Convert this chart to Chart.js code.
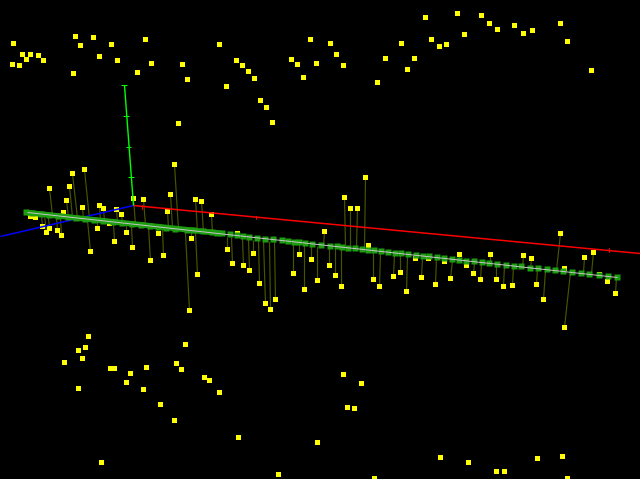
<!DOCTYPE html>
<html>
<head>
<meta charset="utf-8">
<script src="https://cdn.jsdelivr.net/npm/chart.js@4/dist/chart.umd.min.js"></script>
<style>html,body{margin:0;padding:0;background:#000;overflow:hidden}canvas{display:block;background:#000}</style>
</head>
<body>
<canvas id="c" width="640" height="479"></canvas>
<script>
const looseX = [13,22,30,26,38,43,12,19,73,75,80,93,99,111,117,137,145,151,182,187,219,226,236,242,248,254,260,266,272,178,291,297,303,310,316,330,336,343,377,385,401,407,414,425,431,439,446,457,464,481,489,497,514,523,532,560,567,591,
88,85,78,82,64,78,110,114,130,126,146,143,176,181,185,204,209,219,160,174,238,101,278,317,343,361,347,354,374,440,468,496,504,537,562,567,
35,30,109,237,444,466,564,599,607,415,428];
const looseY = [43,54,54,59,55,60,64,65,73,36,45,37,56,44,60,72,39,63,64,79,44,86,60,65,71,78,100,107,122,123,59,64,77,39,63,43,54,65,82,58,43,69,58,17,39,46,44,13,34,15,23,29,25,33,30,23,41,70,
336,347,350,358,362,388,368,368,373,382,367,389,363,369,344,377,380,392,404,420,437,462,474,442,374,383,407,408,478,457,462,471,471,458,456,478,
217,216,223,233,261,265,268,274,281,258,258];

const stemX  = [49,72,84,69,66,82,99,103,116,121,63,133,143,174,170,167,195,201,211,365,344,350,357,324,368,459,490,523,531,560,584,593,
42,46,49,57,61,90,97,114,126,132,150,158,163,191,197,189,227,232,243,249,253,259,265,270,275,293,299,304,311,317,329,335,341,373,379,393,400,406,421,435,450,473,480,496,503,512,536,543,564,615];
const stemY  = [188,173,169,186,200,207,205,208,209,214,212,198,199,164,194,211,199,201,214,177,197,208,208,231,245,254,254,255,258,233,257,252,
226,232,228,230,235,251,228,241,232,247,260,233,255,238,274,310,249,263,265,270,253,283,303,309,299,273,254,289,259,280,265,275,286,279,286,276,272,291,277,284,278,273,279,279,286,285,284,299,327,293];
const baseX  = [52,77,89,72,68,83,100,104,117,122,64,135,145,178,172,168,197,203,212,364,345,350,356,323,368,459,490,522,530,556,583,591,
41,44,48,56,60,87,97,113,126,131,148,157,162,191,195,185,227,231,242,248,253,258,263,269,274,293,299,304,311,317,329,335,341,373,380,394,400,407,422,436,452,474,481,496,504,513,537,545,570,616];
const baseY  = [215,218,219,217,217,218,220,221,222,223,216,224,225,229,228,228,231,232,233,249,245,246,247,245,250,260,263,267,268,270,272,273,
214,215,217,217,218,220,221,223,224,225,226,227,228,231,232,233,237,237,238,238,240,240,240,241,241,244,244,245,246,246,247,248,248,252,252,254,255,255,257,258,260,262,263,265,265,266,269,270,272,277];

const bandBoxX = [26,32,41,49,58,68,76,85,94,103,113,122,132,141,150,158,166,175,187,193,203,212,217,222,230,237,243,249,257,265,273,282,288,294,299,305,312,321,330,337,342,348,355,362,368,374,381,388,395,401,408,416,423,429,437,444,452,459,466,474,482,489,497,506,514,521,530,538,547,555,563,572,581,589,599,608,617];
const bandBoxY = [212,213,214,215,216,217,218,219,220,221,222,223,224,225,226,227,228,229,230,230,231,232,233,233,234,235,236,237,238,239,239,240,241,242,242,243,244,245,246,246,247,248,248,249,250,250,251,252,253,253,254,255,256,256,257,258,259,260,261,261,262,263,264,265,266,266,268,268,269,270,271,272,273,274,275,276,277];

const axisLineX = [27,617];
const axisLineY = [212,277];
const bandLeftX = [26,222];
const bandLeftY = [212,233];

const redX = [133,640];
const redY = [205,253];
const blueX = [133,0];
const blueY = [205,236];
const greenX = [133,124];
const greenY = [205,85];

const greenTickX1 = [121,123,126,128];
const greenTickX2 = [127,129,131,134];
const greenTickY  = [85,116,147,177];
const redTickX = [142,256,609];
const redTickY1 = [205,216,248];
const redTickY2 = [209,219,252];

const pts = (xs, ys) => xs.map((x, i) => ({x, y: ys[i]}));
const segs = (x1, y1, x2, y2) => x1.flatMap((x, i) => [{x, y: y1[i]}, {x: x2[i], y: y2[i]}, {x: null, y: null}]);
const line = (data, color, width, order) => ({type: 'scatter', data, showLine: true, borderColor: color, borderWidth: width, pointRadius: 0, order, spanGaps: false, borderCapStyle: 'butt'});
const marks = (data, color, radius, order) => ({type: 'scatter', data, showLine: false, backgroundColor: color, borderWidth: 0, pointStyle: 'rect', pointRadius: radius, order});

new Chart(document.getElementById('c'), {
  type: 'scatter',
  data: {datasets: [
    line(pts(axisLineX, axisLineY), '#c4c4c4', 1, 1),
    marks(pts(bandBoxX, bandBoxY), '#1c9e10', 4.25, 2),
    line(pts(bandLeftX, bandLeftY), '#1c9e10', 5.5, 3),
    line(pts(redX, redY), '#ff0000', 1.4, 5),
    line(pts(blueX, blueY), '#0000ff', 1.4, 5),
    line(pts(greenX, greenY), '#00ff00', 1.4, 4),
    line(segs(greenTickX1, greenTickY, greenTickX2, greenTickY), '#00ff00', 1, 4),
    line(segs(redTickX, redTickY1, redTickX, redTickY2), '#ff0000', 1, 5),
    marks(pts(stemX, stemY), '#ffff00', 3.54, 7),
    marks(pts(looseX, looseY), '#ffff00', 3.54, 7),
    line(segs(stemX, stemY, baseX, baseY), '#465400', 1.2, 8)
  ]},
  options: {
    responsive: false,
    animation: false,
    events: [],
    layout: {padding: 0, autoPadding: false},
    plugins: {legend: {display: false}, tooltip: {enabled: false}},
    scales: {
      x: {type: 'linear', display: false, min: -0.5, max: 639.5},
      y: {type: 'linear', display: false, min: -0.5, max: 478.5, reverse: true}
    }
  }
});
</script>
</body>
</html>
